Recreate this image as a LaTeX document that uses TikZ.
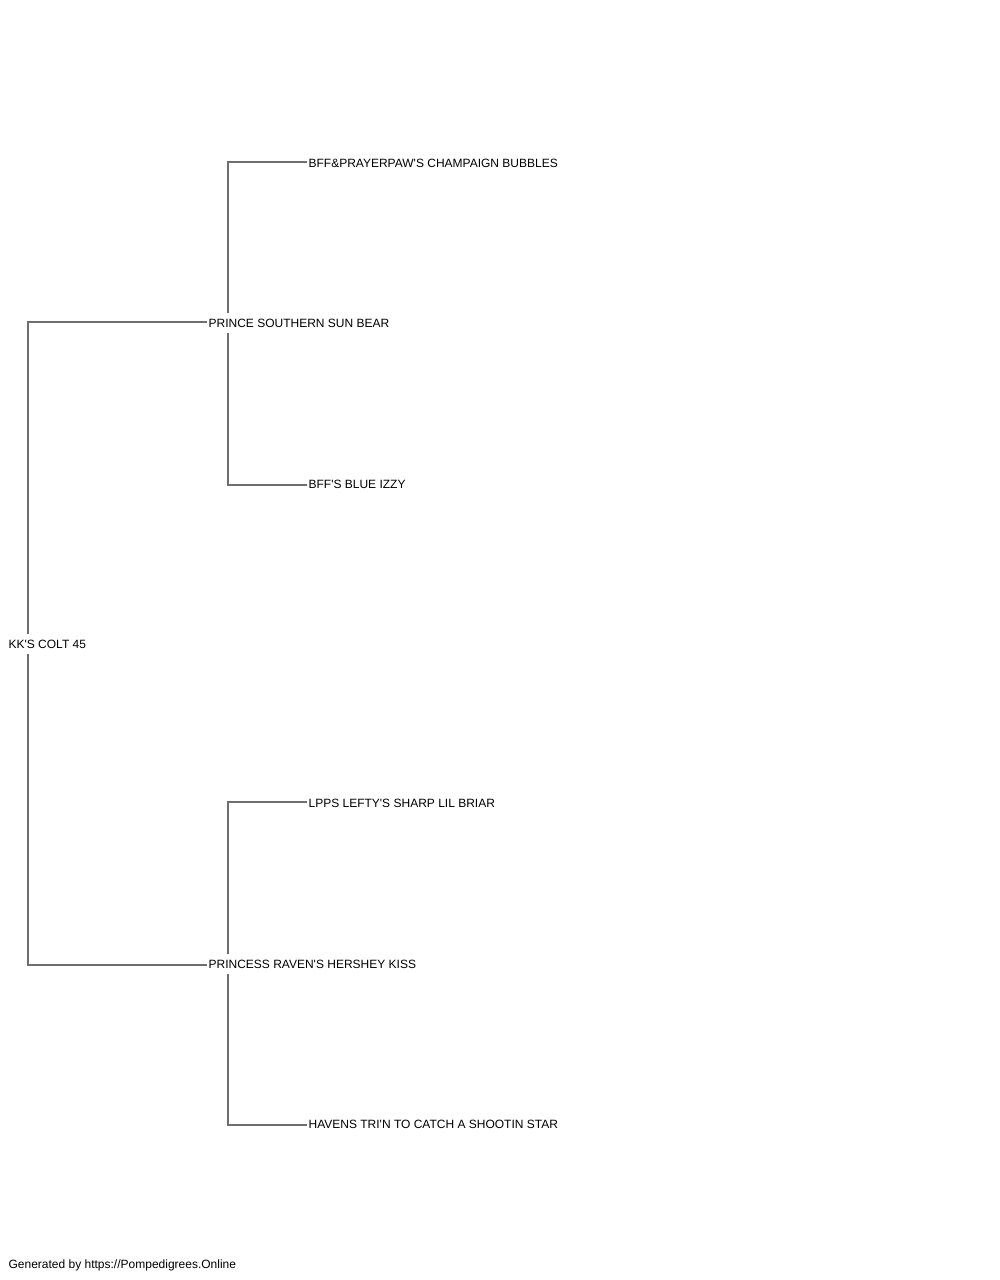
\documentclass[tikz,border=0pt]{standalone}
\usepackage{fontspec}
\setmainfont{Liberation Sans}
\usetikzlibrary{positioning}
\definecolor{linegray}{RGB}{110,110,110}

\begin{document}
\begin{tikzpicture}[x=1pt, y=-1pt, line width=1.2pt]
    \tikzset{horse/.style={anchor=west, inner xsep=1.5pt, inner ysep=0pt,
        minimum height=18pt, text height=8.6pt, text depth=0pt,
        font=\fontsize{12}{14}\selectfont}}
    \tikzset{link/.style={draw=linegray}}

    \useasboundingbox (0,0) rectangle (1000,1280);

    % Nodes
    \node[horse] (colt)  at (6.5,644)    {KK\textquotesingle S COLT 45};
    \node[horse] (sire)  at (206.5,323)  {PRINCE SOUTHERN SUN BEAR};
    \node[horse] (dam)   at (206.5,964)  {PRINCESS RAVEN\textquotesingle S HERSHEY KISS};

    \node[horse] (ss)    at (306.5,163)  {BFF\&PRAYERPAW\textquotesingle S CHAMPAIGN BUBBLES};
    \node[horse] (sd)    at (306.5,484)  {BFF\textquotesingle S BLUE IZZY};
    \node[horse] (ds)    at (306.5,803)  {LPPS LEFTY\textquotesingle S SHARP LIL BRIAR};
    \node[horse] (dd)    at (306.5,1124) {HAVENS TRI\textquotesingle N TO CATCH A SHOOTIN STAR};

    \node[horse] (footer) at (6.5,1264)  {Generated by https://Pompedigrees.Online};

    % Links
    \draw[link] ([xshift=21.5pt]colt.north west) |- ([yshift=1pt]sire.west);
    \draw[link] ([xshift=21.5pt]colt.south west) |- ([yshift=-1pt]dam.west);

    \draw[link] ([xshift=21.5pt]sire.north west) |- ([yshift=1pt]ss.west);
    \draw[link] ([xshift=21.5pt]sire.south west) |- ([yshift=-1pt]sd.west);

    \draw[link] ([xshift=21.5pt]dam.north west) |- ([yshift=1pt]ds.west);
    \draw[link] ([xshift=21.5pt]dam.south west) |- ([yshift=-1pt]dd.west);

\end{tikzpicture}
\end{document}
